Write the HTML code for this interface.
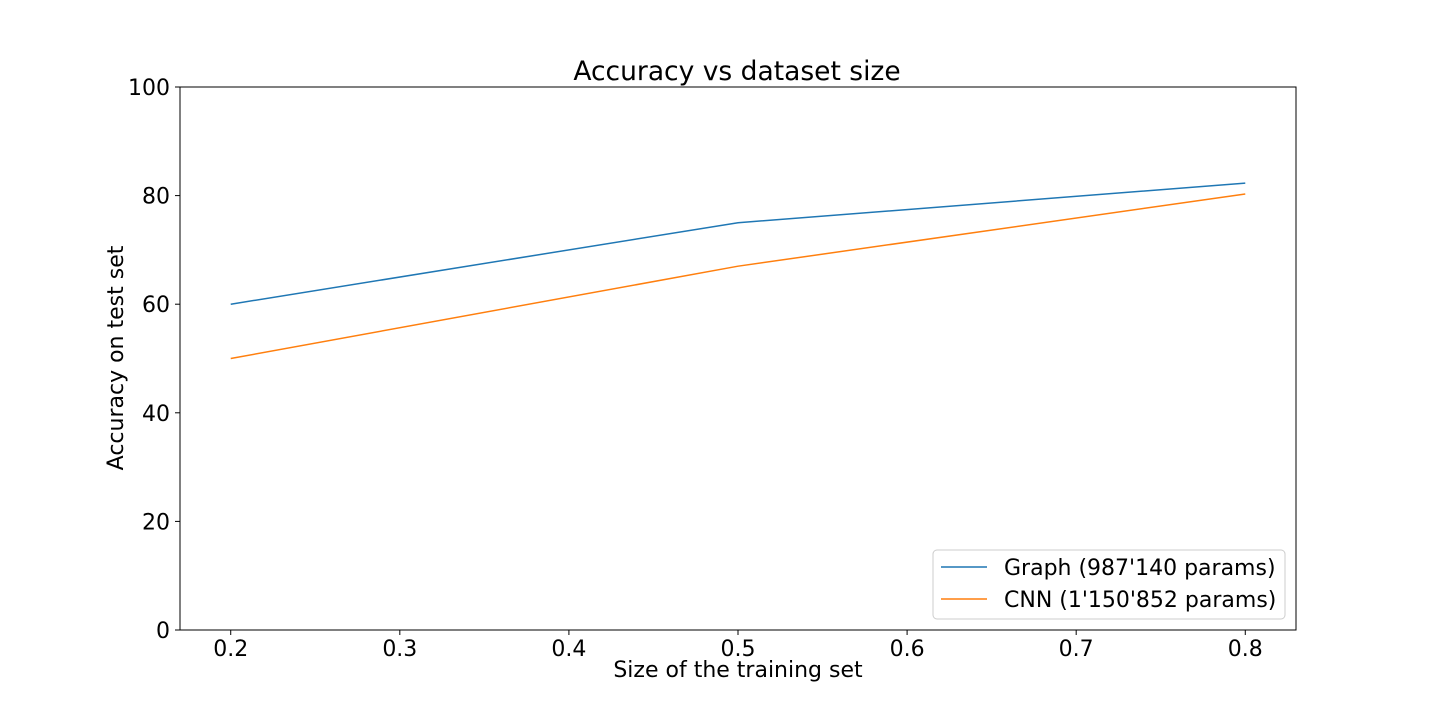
<!DOCTYPE html>
<html><head><meta charset="utf-8"><style>
body{margin:0;background:#fff}
svg{display:block;font-family:"DejaVu Sans","Liberation Sans",sans-serif}
</style></head><body>
<svg id="chart" width="1440" height="720">
<rect width="1440" height="720" fill="#fff"/>
<text x="737" y="80" font-size="26.5" text-anchor="middle">Accuracy vs dataset size</text>
<g id="xticks"></g>
<g id="yticks"></g>
<g id="series"></g>
<rect x="180" y="87" width="1116" height="543" fill="none" stroke="#000" stroke-width="1"/>
<text x="738" y="677" font-size="22" text-anchor="middle">Size of the training set</text>
<text transform="translate(123,358) rotate(-90)" font-size="22" text-anchor="middle">Accuracy on test set</text>
<g>
<rect x="933" y="550" width="352" height="69" rx="4" fill="#fff" fill-opacity="0.8" stroke="#ccc"/>
<line x1="941" y1="567" x2="987" y2="567" stroke="#1f77b4" stroke-width="1.5"/>
<text x="1004" y="575" font-size="22">Graph (987'140 params)</text>
<line x1="941" y1="599" x2="987" y2="599" stroke="#ff7f0e" stroke-width="1.5"/>
<text x="1004" y="607" font-size="22">CNN (1'150'852 params)</text>
</g>
</svg>
<script>
const xValues = [0.2, 0.5, 0.8];
const graphAcc = [60, 75, 82.3];
const cnnAcc = [50, 67, 80.3];
const xTickLabels = ["0.2","0.3","0.4","0.5","0.6","0.7","0.8"];
const yTickLabels = ["0","20","40","60","80","100"];
const NS="http://www.w3.org/2000/svg";
const X=v=>180+(v-0.17)/(0.66)*1116;
const Y=v=>630-v/100*543;
function mk(t,a,p){const e=document.createElementNS(NS,t);for(const k in a)e.setAttribute(k,a[k]);p.appendChild(e);return e;}
const xg=document.getElementById('xticks'),yg=document.getElementById('yticks'),sg=document.getElementById('series');
xTickLabels.forEach(l=>{const x=X(parseFloat(l));
 const t=mk('line',{x1:x,y1:630,x2:x,y2:635,stroke:'#000'},xg);
 
 
 const tx=mk('text',{x:x,y:656,'font-size':22,'text-anchor':'middle'},xg);tx.textContent=l;
 
 });
yTickLabels.forEach(l=>{const y=Y(parseFloat(l));
 const t=mk('line',{x1:175,y1:y,x2:180,y2:y,stroke:'#000'},yg);
 
 
 const tx=mk('text',{x:170,y:y+8,'font-size':22,'text-anchor':'end'},yg);tx.textContent=l;
 
 });
function line(vals,color,name){
 const p=mk('polyline',{points:xValues.map((x,i)=>X(x)+','+Y(vals[i])).join(' '),fill:'none',stroke:color,'stroke-width':1.5},sg);
 
 }
line(graphAcc,'#1f77b4','graph-line');
line(cnnAcc,'#ff7f0e','cnn-line');
</script>
</body></html>
